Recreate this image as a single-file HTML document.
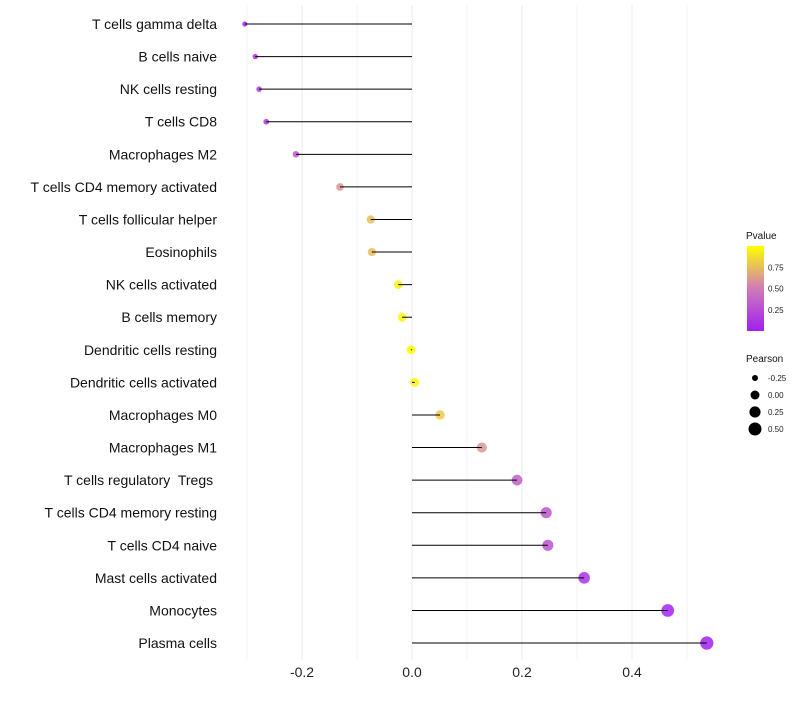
<!DOCTYPE html>
<html><head><meta charset="utf-8"><style>
body{margin:0;background:#fff;font-family:"Liberation Sans",sans-serif}
text{white-space:pre}
</style></head><body>
<svg id="c" width="800" height="700" xmlns="http://www.w3.org/2000/svg">
<defs><linearGradient id="pg" x1="0" y1="1" x2="0" y2="0">
<stop offset="0" stop-color="#A020F0"/><stop offset="0.5" stop-color="#D07AB8"/><stop offset="1" stop-color="#FFFF00"/></linearGradient></defs>
</svg>
<script>
const categories=["T cells gamma delta","B cells naive","NK cells resting","T cells CD8","Macrophages M2","T cells CD4 memory activated","T cells follicular helper","Eosinophils","NK cells activated","B cells memory","Dendritic cells resting","Dendritic cells activated","Macrophages M0","Macrophages M1","T cells regulatory  Tregs ","T cells CD4 memory resting","T cells CD4 naive","Mast cells activated","Monocytes","Plasma cells"];
const pearson=[-0.304,-0.285,-0.278,-0.265,-0.211,-0.131,-0.075,-0.073,-0.025,-0.018,-0.002,0.005,0.051,0.127,0.191,0.244,0.247,0.313,0.465,0.536];
const pvalue=[0.05,0.1,0.12,0.15,0.3,0.6,0.75,0.75,0.95,0.97,0.99,0.97,0.8,0.6,0.35,0.3,0.28,0.1,0.02,0.01];
const xTicks=[-0.2,0,0.2,0.4];
const xTickLabels=["-0.2","0.0","0.2","0.4"];
const pTicks=[0.25,0.5,0.75];
const sizeTicks=[-0.25,0,0.25,0.5];
const NS="http://www.w3.org/2000/svg",svg=document.getElementById('c');
const x=v=>412+v*550, y=i=>24+i*32.58;
const rad=v=>Math.sqrt(Math.max(4,20+44*v));
function mix(a,b,t){return a.map((c,i)=>Math.round(c+(b[i]-c)*t));}
function col(p){const A=[160,32,240],M=[208,122,184],B=[255,255,0];const c=p<0.5?mix(A,M,p/0.5):mix(M,B,(p-0.5)/0.5);return `rgb(${c})`;}
function el(t,a,txt){const e=document.createElementNS(NS,t);for(const k in a)e.setAttribute(k,a[k]);if(txt!=null)e.textContent=txt;svg.appendChild(e);return e;}
for(let v=-0.3;v<=0.55;v+=0.1){const g=el('line',{x1:x(v),x2:x(v),y1:5,y2:660,stroke:'#ebebeb','stroke-width':Math.abs(Math.round(v*10))%2==0?1:0.6});

}
xTicks.forEach((v,i)=>{const t=el('text',{x:x(v),y:677,'text-anchor':'middle','font-size':14,fill:'#222'},xTickLabels[i]);

});
categories.forEach((c,i)=>{
const t=el('text',{x:217,y:y(i)+5,'text-anchor':'end','font-size':14,fill:'#111'},c);


const p=el('circle',{cx:x(pearson[i]),cy:y(i),r:rad(pearson[i]),fill:col(pvalue[i]),opacity:0.85});


const l=el('line',{x1:x(0),x2:x(pearson[i]),y1:y(i),y2:y(i),stroke:'#000','stroke-width':1});


});
const lt=el('text',{x:746,y:239,'font-size':10,fill:'#111'},'Pvalue');


const bar=el('rect',{x:747,y:246,width:17,height:85,fill:'url(#pg)'});


pTicks.forEach(p=>{const yy=331-p*85;
const tl=el('text',{x:768,y:yy+3,'font-size':8,fill:'#222'},p.toFixed(2));

});
const st=el('text',{x:746,y:362,'font-size':10,fill:'#111'},'Pearson');


sizeTicks.forEach((v,i)=>{const yy=378+i*17;
const c=el('circle',{cx:755,cy:yy,r:rad(v),fill:'#000'});


const tl=el('text',{x:768,y:yy+3,'font-size':8,fill:'#222'},v.toFixed(2));

});
</script>
</body></html>
